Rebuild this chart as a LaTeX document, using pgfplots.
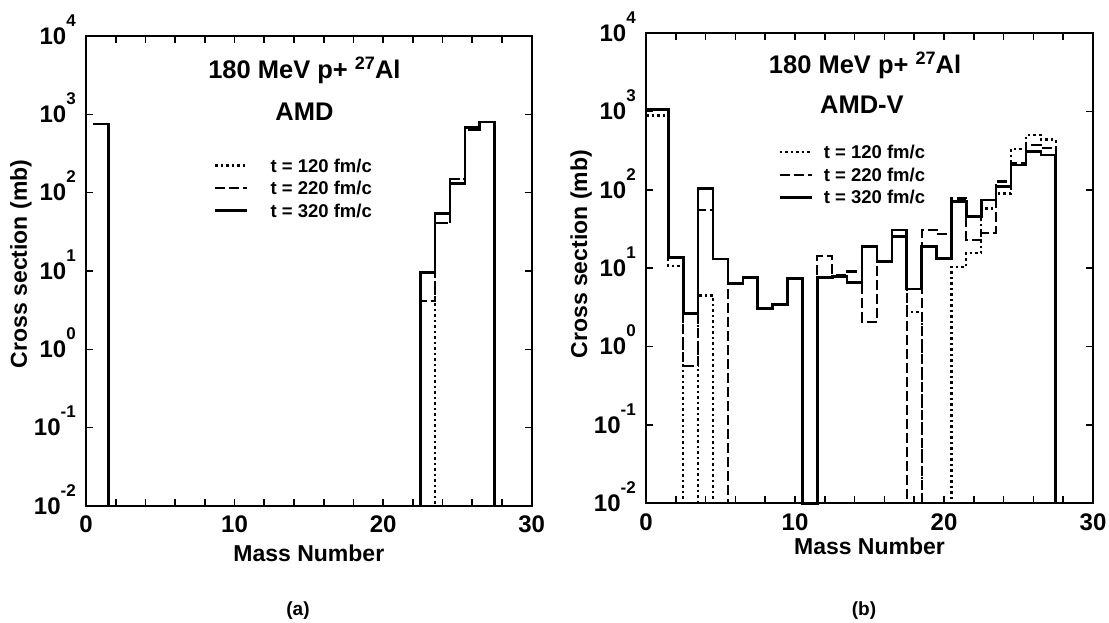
\documentclass[border=0pt]{standalone}
\usepackage{fontspec}
\setmainfont{Liberation Sans}
\usepackage{pgfplots}
\usepackage{pgfplotstable}
\pgfplotsset{compat=1.18}

\NewDocumentCommand\pw{m}{10\smash{\raisebox{18pt}{\fontsize{17}{17}\selectfont #1}}}

% ---------- panel (a): AMD ----------
\pgfplotstableread{
x y
0.5 757
1.5 0.01
23.5 41
24.5 148
25.5 640
26.5 805
27.5 0.01
}\aDot
\pgfplotstableread{
x y
0.5 757
1.5 0.01
22.5 4.1
23.5 41
24.5 148
25.5 640
26.5 805
27.5 0.01
}\aDash
\pgfplotstableread{
x y
0.5 757
1.5 0.01
22.5 9.5
23.5 54
24.5 130
25.5 675
26.5 800
27.5 0.01
}\aSol

% ---------- panel (b): AMD-V ----------
\pgfplotstableread{
x y
0 890
1.5 10.7
2.5 0.01
3.5 4.5
4.5 0.01
11.5 7.6
12.5 7.9
13.5 6.6
14.5 18.9
15.5 12.2
16.5 25.4
17.5 2.8
18.5 0.01
20.5 10.5
21.5 15.5
22.5 58
23.5 90
24.5 333
25.5 500
26.5 440
27.5 0.01
}\bDot
\pgfplotstableread{
x y
0 1064
1.5 13.7
2.5 0.57
3.5 56
4.5 13.2
5.5 0.01
11.5 14.4
12.5 8.3
13.5 9.1
14.5 2.08
15.5 12.2
16.5 25.4
17.5 0.01
18.5 30.8
19.5 27.2
20.5 78
21.5 23
22.5 28.5
23.5 128
24.5 219
25.5 375
26.5 345
27.5 0.01
}\bDash
\pgfplotstableread{
x y
0 1064
1.5 13.7
2.5 2.67
3.5 105
4.5 13.2
5.5 6.4
6.5 7.6
7.5 3.08
8.5 3.47
9.5 7.4
10.5 0.01
11.5 7.6
12.5 7.9
13.5 6.6
14.5 18.9
15.5 12.2
16.5 30.8
17.5 5.45
18.5 18.9
19.5 13.4
20.5 71
21.5 45.7
22.5 74.5
23.5 110
24.5 208
25.5 310
26.5 278
27.5 0.01
}\bSol

\begin{document}
\begin{tikzpicture}
\path[use as bounding box] (0pt,0pt) rectangle (1109pt,623pt);

% ===== (a) =====
\begin{axis}[at={(86pt,117pt)}, anchor=south west, width=445.7pt, height=470pt,
    scale only axis,
    ymode=log, ymin=1e-2, ymax=1e4, xmin=0, xmax=30,
    xtick={0,2,...,30}, xticklabels={0,,,,,10,,,,,20,,,,,30},
    ytick={1e-2,1e-1,1,10,100,1000,10000},
    yticklabels={\pw{-2},\pw{-1},\pw{0},\pw{1},\pw{2},\pw{3},\pw{4}},
    yminorticks=false, xminorticks=false,
    tick align=inside, major tick length=7pt,
    every tick/.style={black, line width=1.6pt},
    axis line style={line width=2pt},
    tick label style={font=\fontsize{24}{24}\selectfont\bfseries},
    yticklabel style={anchor=east, inner sep=0pt, xshift=-10pt},
    xticklabel style={anchor=north, inner sep=0pt, yshift=-10pt},
    clip=false,
    legend cell align=left,
    legend image code/.code={\draw[#1] (0pt,0pt) -- (32pt,0pt);},
    legend style={draw=none, fill=none, at={(rel axis cs:0.28,0.7436)}, anchor=north west,
    font=\fontsize{18.5}{18.5}\selectfont\bfseries, row sep=9pt,
    nodes={inner sep=0pt, text height=13.5pt, text depth=0pt},
    /tikz/every odd column/.append style={column sep=22pt}}]
\addplot[black, line width=2.2pt, dash pattern=on 2.5pt off 3pt, const plot, line join=miter] table[x=x,y=y] {\aDot};
\addlegendentry{t = 120 fm/c}
\addplot[black, line width=2.2pt, dash pattern=on 10pt off 4pt, const plot, line join=miter] table[x=x,y=y] {\aDash};
\addlegendentry{t = 220 fm/c}
\addplot[black, line width=2.6pt, const plot, line join=miter] table[x=x,y=y] {\aSol};
\addlegendentry{t = 320 fm/c}
\node[font=\fontsize{25.5}{25.5}\selectfont\bfseries, anchor=base] at (rel axis cs:0.49,0.9106) {180 MeV p+ \raisebox{8.5pt}{\fontsize{18}{18}\selectfont 27}Al};
\node[font=\fontsize{25.5}{25.5}\selectfont\bfseries, anchor=base] at (rel axis cs:0.49,0.8198) {AMD};
\node[font=\fontsize{23}{23}\selectfont\bfseries, anchor=base] at (rel axis cs:0.5,-0.1185) {Mass Number};
\node[font=\fontsize{23}{23}\selectfont\bfseries, anchor=base, rotate=90] at (rel axis cs:-0.1324,0.515) {Cross section (mb)};
\node[font=\fontsize{19}{19}\selectfont\bfseries] at (rel axis cs:0.4757,-0.2234) {(a)};
\end{axis}

% ===== (b) =====
\begin{axis}[at={(646pt,119.7pt)}, anchor=south west, width=447pt, height=470pt,
    scale only axis,
    ymode=log, ymin=1e-2, ymax=1e4, xmin=0, xmax=30,
    xtick={0,2,...,30}, xticklabels={0,,,,,10,,,,,20,,,,,30},
    ytick={1e-2,1e-1,1,10,100,1000,10000},
    yticklabels={\pw{-2},\pw{-1},\pw{0},\pw{1},\pw{2},\pw{3},\pw{4}},
    yminorticks=false, xminorticks=false,
    tick align=inside, major tick length=7pt,
    every tick/.style={black, line width=1.6pt},
    axis line style={line width=2pt},
    tick label style={font=\fontsize{24}{24}\selectfont\bfseries},
    yticklabel style={anchor=east, inner sep=0pt, xshift=-10pt},
    xticklabel style={anchor=north, inner sep=0pt, yshift=-10pt},
    clip=false,
    legend cell align=left,
    legend image code/.code={\draw[#1] (0pt,0pt) -- (32pt,0pt);},
    legend style={draw=none, fill=none, at={(rel axis cs:0.2887,0.766)}, anchor=north west,
    font=\fontsize{18.5}{18.5}\selectfont\bfseries, row sep=9pt,
    nodes={inner sep=0pt, text height=13.5pt, text depth=0pt},
    /tikz/every odd column/.append style={column sep=11pt}}]
\addplot[black, line width=2.2pt, dash pattern=on 2.5pt off 3pt, const plot, line join=miter] table[x=x,y=y] {\bDot};
\addlegendentry{t = 120 fm/c}
\addplot[black, line width=2.2pt, dash pattern=on 10pt off 4pt, const plot, line join=miter] table[x=x,y=y] {\bDash};
\addlegendentry{t = 220 fm/c}
\addplot[black, line width=2.6pt, const plot, line join=miter] table[x=x,y=y] {\bSol};
\addlegendentry{t = 320 fm/c}
\node[font=\fontsize{25.5}{25.5}\selectfont\bfseries, anchor=base] at (rel axis cs:0.49,0.9149) {180 MeV p+ \raisebox{8.5pt}{\fontsize{18}{18}\selectfont 27}Al};
\node[font=\fontsize{25.5}{25.5}\selectfont\bfseries, anchor=base] at (rel axis cs:0.483,0.8298) {AMD-V};
\node[font=\fontsize{23}{23}\selectfont\bfseries, anchor=base] at (rel axis cs:0.5,-0.110) {Mass Number};
\node[font=\fontsize{23}{23}\selectfont\bfseries, anchor=base, rotate=90] at (rel axis cs:-0.132,0.53) {Cross section (mb)};
\node[font=\fontsize{19}{19}\selectfont\bfseries] at (rel axis cs:0.4877,-0.229) {(b)};
\end{axis}
\end{tikzpicture}
\end{document}
